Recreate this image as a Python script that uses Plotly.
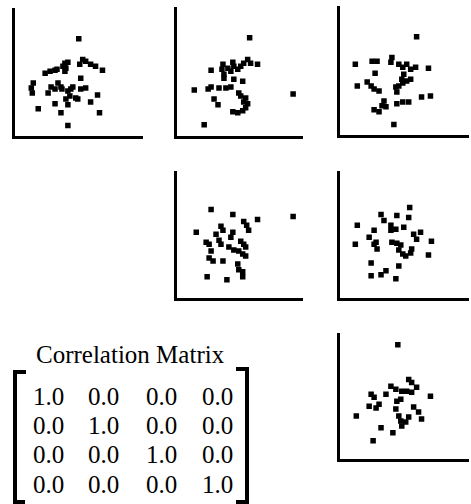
import plotly.graph_objects as go

W, H = 471, 504

# Scatter panels (values in arbitrary units, axes run 0..~130)
p1_x = [65, 54, 51, 54, 49, 52, 51, 31, 36, 41, 43, 66, 69, 72, 77, 82, 89, 67, 19, 17, 18,
        34, 37, 41, 44, 47, 48, 54, 57, 59, 56, 52, 67, 72, 64, 84, 77, 24, 41, 47, 54, 86, 62]
p1_y = [98, 10, 73, 74, 70, 68, 65, 63, 65, 66, 67, 72, 77, 75, 72, 70, 66, 58, 53, 48, 43,
        43, 49, 47, 53, 49, 47, 45, 47, 49, 40, 37, 47, 48, 37, 41, 34, 27, 32, 23, 31, 23, 38]

p2_x = [74, 118, 28, 35, 47, 46, 48, 48, 52, 57, 58, 55, 62, 65, 68, 72, 75, 82, 67, 18, 32,
        35, 43, 50, 55, 38, 42, 63, 65, 70, 68, 72, 70, 57, 62, 67, 58]
p2_y = [99, 42, 11, 66, 72, 67, 62, 58, 68, 74, 70, 65, 67, 70, 73, 77, 73, 72, 55, 46, 47,
        49, 48, 48, 49, 37, 31, 43, 40, 38, 34, 32, 28, 24, 23, 25, 57]

p3_x = [78, 55, 16, 33, 38, 36, 53, 52, 60, 64, 68, 72, 77, 90, 65, 63, 18, 28, 32, 35, 40,
        57, 60, 64, 68, 72, 58, 83, 92, 45, 43, 47, 35, 40, 58, 64, 70]
p3_y = [99, 10, 71, 74, 74, 62, 78, 73, 71, 68, 71, 66, 68, 67, 61, 56, 49, 53, 49, 46, 44,
        48, 49, 52, 54, 56, 43, 38, 39, 34, 29, 28, 25, 23, 31, 33, 33]

p4_x = [35, 57, 82, 118, 68, 71, 73, 20, 45, 47, 40, 57, 55, 30, 33, 43, 45, 65, 68, 70, 53,
        58, 63, 35, 67, 70, 33, 37, 47, 62, 63, 67, 67, 31, 51]
p4_y = [89, 84, 79, 82, 77, 73, 68, 66, 72, 68, 64, 66, 61, 56, 54, 58, 54, 57, 54, 51, 51,
        48, 47, 47, 44, 42, 40, 37, 37, 34, 28, 26, 21, 21, 18]

p5_x = [71, 70, 42, 45, 58, 18, 35, 52, 57, 65, 30, 35, 38, 37, 16, 53, 58, 62, 60, 78, 82,
        75, 93, 73, 72, 67, 64, 90, 32, 60, 47, 42, 32, 57, 52]
p5_y = [91, 81, 84, 78, 83, 73, 68, 73, 69, 71, 61, 54, 49, 56, 54, 56, 55, 53, 48, 59, 66,
        64, 57, 49, 45, 42, 44, 43, 35, 32, 27, 23, 22, 19, 68]

p6_x = [59, 17, 92, 70, 73, 52, 57, 63, 68, 73, 78, 32, 35, 47, 62, 58, 30, 37, 40, 57, 75,
        80, 83, 60, 62, 63, 67, 70, 42, 54, 34]
p6_y = [115, 43, 63, 80, 77, 73, 70, 68, 68, 67, 72, 65, 62, 65, 60, 58, 53, 51, 55, 50, 52,
        47, 40, 43, 38, 33, 37, 42, 31, 26, 18]

# Correlation matrix
matrix_title = "Correlation Matrix"
corr = [[1.0, 0.0, 0.0, 0.0],
        [0.0, 1.0, 0.0, 0.0],
        [0.0, 0.0, 1.0, 0.0],
        [0.0, 0.0, 0.0, 1.0]]

# panel frames in pixels: (left, right, top, bottom)
panels = [
    (p1_x, p1_y, (13, 143, 8, 137)),
    (p2_x, p2_y, (175, 303, 7, 137)),
    (p3_x, p3_y, (338, 469, 6, 136)),
    (p4_x, p4_y, (175, 303, 171, 299)),
    (p5_x, p5_y, (338, 469, 171, 299)),
    (p6_x, p6_y, (338, 469, 333, 460)),
]

fig = go.Figure()
LW = 3
for i, (xs, ys, (l, r, t, b)) in enumerate(panels, start=1):
    sfx = "" if i == 1 else str(i)
    fig.add_trace(go.Scatter(
        x=xs, y=ys, mode="markers",
        marker=dict(symbol="square", size=5.5, color="black", line=dict(width=0)),
        xaxis="x" + sfx, yaxis="y" + sfx, showlegend=False, hoverinfo="skip"))
    dl = (l + LW / 2) / W
    dr = r / W
    db = 1 - (b - LW / 2) / H
    dt = 1 - t / H
    wpx = r - l
    hpx = b - t
    fig.layout["xaxis" + sfx] = dict(
        domain=[dl, dr], range=[0, wpx], anchor="y" + sfx,
        showline=True, linewidth=LW, linecolor="black", showgrid=False,
        zeroline=False, showticklabels=False, ticks="", fixedrange=True)
    fig.layout["yaxis" + sfx] = dict(
        domain=[db, dt], range=[0, hpx], anchor="x" + sfx,
        showline=True, linewidth=LW, linecolor="black", showgrid=False,
        zeroline=False, showticklabels=False, ticks="", fixedrange=True)

FONT = dict(family="Liberation Serif, Times New Roman, serif", size=25, color="black")
ann = [dict(text=matrix_title, x=130 / W, y=1 - 354 / H, xref="paper", yref="paper",
            xanchor="center", yanchor="middle", showarrow=False, font=FONT)]
col_c = [48, 103, 161, 217]
row_c = [396, 425, 454, 484]
for ri, row in enumerate(corr):
    for ci, v in enumerate(row):
        ann.append(dict(text=f"{v:.1f}", x=col_c[ci] / W, y=1 - row_c[ri] / H,
                        xref="paper", yref="paper", xanchor="center", yanchor="middle",
                        showarrow=False, font=FONT))


def px(xp, yp):
    return f"{xp / W:.5f},{1 - yp / H:.5f}"


shapes = [
    dict(type="path", xref="paper", yref="paper",
         path=f"M{px(26, 372)} L{px(15, 372)} L{px(15, 502)} L{px(25, 502)}",
         line=dict(color="black", width=4)),
    dict(type="path", xref="paper", yref="paper",
         path=f"M{px(236, 369)} L{px(247, 369)} L{px(247, 502)} L{px(236, 502)}",
         line=dict(color="black", width=4)),
]

fig.update_layout(
    width=W, height=H, autosize=False,
    margin=dict(l=0, r=0, t=0, b=0),
    paper_bgcolor="white", plot_bgcolor="white",
    annotations=ann, shapes=shapes, showlegend=False,
)

fig.write_html(
    "out.html",
    config={"displayModeBar": False},
    post_script="document.body.style.margin='0';document.body.style.overflow='hidden';",
)
